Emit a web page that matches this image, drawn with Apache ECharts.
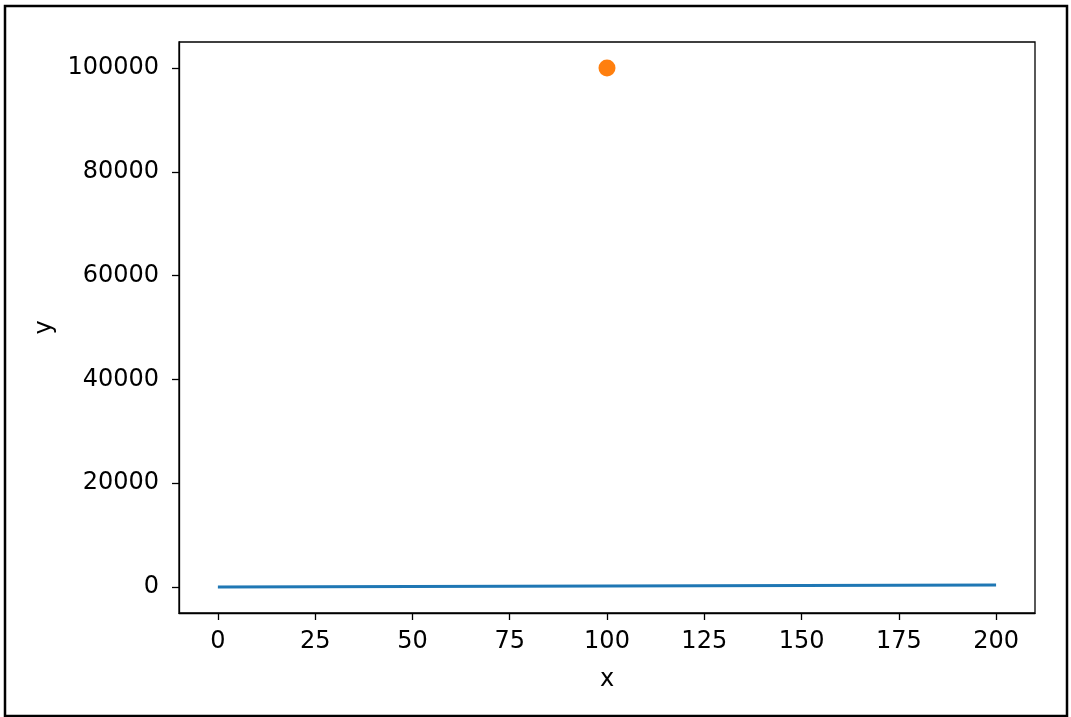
<!DOCTYPE html>
<html><head><meta charset="utf-8">
<script src="https://cdn.jsdelivr.net/npm/echarts@6/dist/echarts.min.js"></script>
<style>html,body{margin:0;padding:0;background:#fff}#c{width:1071px;height:717px}</style>
</head><body><div id="c"></div>
<script>
const lineX = [0, 200];
const lineY = [0, 400];
const pointX = [100];
const pointY = [100000];
const xTicks = [0, 25, 50, 75, 100, 125, 150, 175, 200];
const yTicks = [0, 20000, 40000, 60000, 80000, 100000];

const chart = echarts.init(document.getElementById('c'), null, {renderer: 'canvas'});
const font = 'DejaVu Sans';
const fs = 24;
const axisCommon = {
  axisLine: {show: true, onZero: false, lineStyle: {color: '#000', width: 1.3}},
  axisTick: {show: true, inside: false, length: 7, lineStyle: {color: '#000', width: 1.3}},
  splitLine: {show: false},
  nameTextStyle: {fontFamily: font, fontSize: fs, color: '#000'}
};
chart.setOption({
  animation: false,
  grid: {left: 179, top: 42, width: 856, height: 571, show: true, borderColor: '#000', borderWidth: 1.3, backgroundColor: 'transparent'},
  xAxis: Object.assign({}, axisCommon, {
    type: 'value', min: -10, max: 210,
    name: 'x', nameLocation: 'middle', nameGap: 55,
    axisTick: Object.assign({}, axisCommon.axisTick, {customValues: xTicks}),
    axisLabel: {customValues: xTicks, fontFamily: font, fontSize: fs, color: '#000', margin: 17, formatter: v => String(v)}
  }),
  yAxis: Object.assign({}, axisCommon, {
    type: 'value', min: -5000, max: 105000,
    name: 'y', nameLocation: 'middle', nameGap: 122,
    axisTick: Object.assign({}, axisCommon.axisTick, {customValues: yTicks}),
    axisLabel: {customValues: yTicks, fontFamily: font, fontSize: fs, color: '#000', margin: 20, formatter: v => String(v)}
  }),
  graphic: [{type: 'rect', shape: {x: 5, y: 6, width: 1062, height: 710}, style: {fill: 'none', stroke: '#000', lineWidth: 2.5}, silent: true}],
  series: [
    {type: 'line', data: lineX.map((x, i) => [x, lineY[i]]), showSymbol: false, lineStyle: {color: '#1f77b4', width: 3}, itemStyle: {color: '#1f77b4'}},
    {type: 'scatter', data: pointX.map((x, i) => [x, pointY[i]]), symbolSize: 17, itemStyle: {color: '#ff7f0e', opacity: 1}}
  ]
});
</script></body></html>
